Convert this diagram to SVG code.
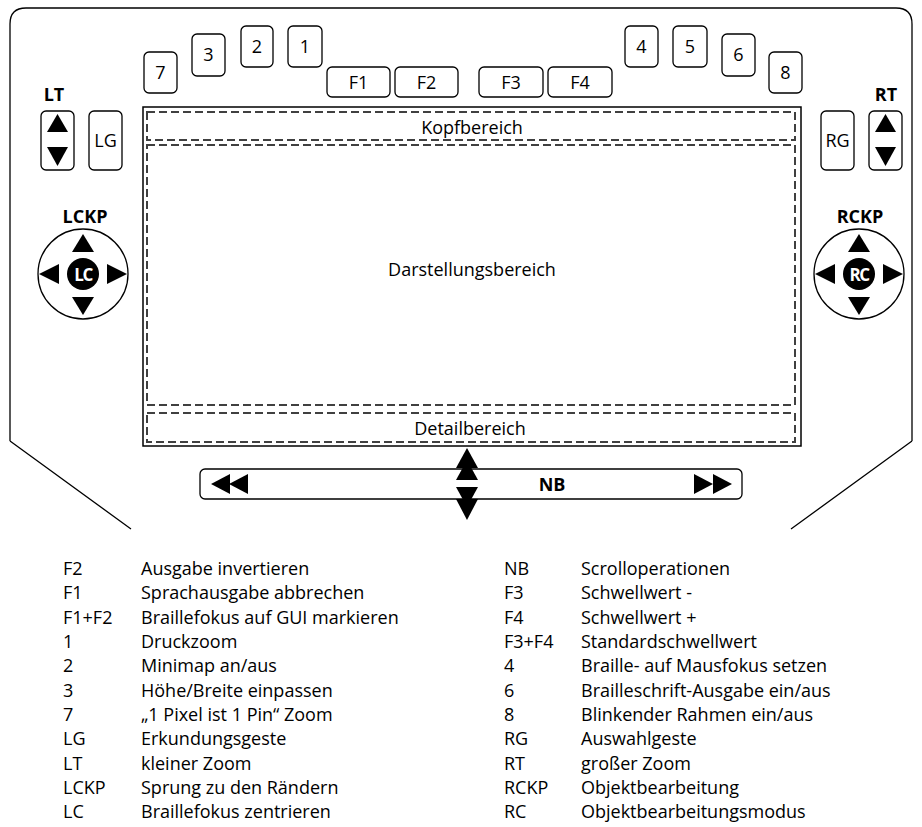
<svg xmlns="http://www.w3.org/2000/svg" width="922" height="827" viewBox="0 0 922 827">
<style>
text{font-family:"Open Sans","Liberation Sans",sans-serif;fill:#000}
.t{font-size:18px}
.c{text-anchor:middle}
.b{font-weight:bold}
.key{fill:#fff;stroke:#000;stroke-width:1.3}
.dash{fill:none;stroke:#404040;stroke-width:2;stroke-dasharray:8 4}
.tri{fill:#000}
.ol{fill:none;stroke:#000;stroke-width:1.3}
</style>
<rect width="922" height="827" fill="#fff"/>
<g id="device">
<path class="ol" d="M10,441 L10,24 Q10,8 26,8 L896,8 Q912,8 912,24 L912,441 M10,441 L131,529 M912,441 L791,529"/>
</g>
<g id="display">
<rect x="143" y="107" width="658" height="339" fill="#fff" stroke="#000" stroke-width="1.5"/>
<rect class="dash" x="147" y="112" width="648" height="28"/>
<rect class="dash" x="147" y="145" width="648" height="260"/>
<rect class="dash" x="147" y="413" width="648" height="29"/>
<text class="t c" x="472" y="134">Kopfbereich</text>
<text class="t c" x="472" y="276">Darstellungsbereich</text>
<text class="t c" x="470" y="435">Detailbereich</text>
</g>
<g id="key7"><rect class="key" x="144" y="52" width="33" height="41" rx="5"/><text class="t c" x="160.5" y="79">7</text></g>
<g id="key3"><rect class="key" x="192" y="34" width="33" height="42" rx="5"/><text class="t c" x="208.5" y="61">3</text></g>
<g id="key2"><rect class="key" x="241" y="26" width="32" height="41" rx="5"/><text class="t c" x="257" y="53">2</text></g>
<g id="key1"><rect class="key" x="288" y="26" width="34" height="41" rx="5"/><text class="t c" x="305" y="53">1</text></g>
<g id="keyF1"><rect class="key" x="327" y="67" width="63" height="30" rx="5"/><text class="t c" x="358.5" y="89">F1</text></g>
<g id="keyF2"><rect class="key" x="395" y="67" width="63" height="30" rx="5"/><text class="t c" x="426.5" y="89">F2</text></g>
<g id="keyF3"><rect class="key" x="479" y="67" width="64" height="30" rx="5"/><text class="t c" x="511" y="89">F3</text></g>
<g id="keyF4"><rect class="key" x="548" y="67" width="64" height="30" rx="5"/><text class="t c" x="580" y="89">F4</text></g>
<g id="key4"><rect class="key" x="625" y="26" width="33" height="41" rx="5"/><text class="t c" x="641.5" y="53">4</text></g>
<g id="key5"><rect class="key" x="673" y="26" width="34" height="41" rx="5"/><text class="t c" x="690" y="53">5</text></g>
<g id="key6"><rect class="key" x="722" y="34" width="33" height="42" rx="5"/><text class="t c" x="738.5" y="61">6</text></g>
<g id="key8"><rect class="key" x="769" y="52" width="33" height="41" rx="5"/><text class="t c" x="785.5" y="79">8</text></g>
<g id="LT">
<text class="t c b" x="54" y="101">LT</text>
<rect class="key" x="41" y="111" width="33" height="59" rx="5"/>
<polygon class="tri" points="57.5,114 68,132 47,132"/>
<polygon class="tri" points="47,147 68,147 57.5,166"/>
</g>
<g id="LG"><rect class="key" x="89" y="111" width="33" height="59" rx="5"/><text class="t c" x="105.5" y="147">LG</text></g>
<g id="RG"><rect class="key" x="821" y="111" width="33" height="59" rx="5"/><text class="t c" x="837.5" y="147">RG</text></g>
<g id="RT">
<text class="t c b" x="886" y="101">RT</text>
<rect class="key" x="869" y="111" width="33" height="59" rx="5"/>
<polygon class="tri" points="885.5,114 896,132 875,132"/>
<polygon class="tri" points="875,147 896,147 885.5,166"/>
</g>
<g id="LCKP">
<text class="t c b" x="85" y="223">LCKP</text>
<circle cx="83" cy="274" r="45" fill="#fff" stroke="#000" stroke-width="1.3"/>
<polygon class="tri" points="83,234 94,252 72,252"/>
<polygon class="tri" points="72,297 94,297 83,315"/>
<polygon class="tri" points="39,274 59,264 59,284"/>
<polygon class="tri" points="127,274 107,264 107,284"/>
<circle cx="83" cy="274" r="16" fill="#000"/>
<text class="c b" x="83" y="280.5" style="font-size:17px;fill:#fff;letter-spacing:-1.5px">LC</text>
</g>
<g id="RCKP">
<text class="t c b" x="860" y="223">RCKP</text>
<circle cx="859" cy="274" r="45" fill="#fff" stroke="#000" stroke-width="1.3"/>
<polygon class="tri" points="859,234 870,252 848,252"/>
<polygon class="tri" points="848,297 870,297 859,315"/>
<polygon class="tri" points="815,274 835,264 835,284"/>
<polygon class="tri" points="903,274 883,264 883,284"/>
<circle cx="859" cy="274" r="16" fill="#000"/>
<text class="c b" x="859" y="280.5" style="font-size:17px;fill:#fff;letter-spacing:-1.5px">RC</text>
</g>
<g id="NB">
<rect class="key" x="200" y="469" width="542" height="30" rx="5"/>
<polygon class="tri" points="211,484 230,474 230,494"/>
<polygon class="tri" points="229,484 248,474 248,494"/>
<polygon class="tri" points="732,484 713,474 713,494"/>
<polygon class="tri" points="713,484 694,474 694,494"/>
<text class="t c b" x="552" y="491">NB</text>
</g>
<g id="connectors">
<polygon class="tri" points="467,448 478,468 456,468"/>
<polygon class="tri" points="467,460 478,480 456,480"/>
<polygon class="tri" points="456,487 478,487 467,507"/>
<polygon class="tri" points="456,499 478,499 467,520"/>
</g>
<g id="legend-left">
<text class="t" x="63" y="575">F2</text><text class="t" x="141" y="575">Ausgabe invertieren</text>
<text class="t" x="63" y="599">F1</text><text class="t" x="141" y="599">Sprachausgabe abbrechen</text>
<text class="t" x="63" y="624">F1+F2</text><text class="t" x="141" y="624">Braillefokus auf GUI markieren</text>
<text class="t" x="63" y="648">1</text><text class="t" x="141" y="648">Druckzoom</text>
<text class="t" x="63" y="672">2</text><text class="t" x="141" y="672">Minimap an/aus</text>
<text class="t" x="63" y="697">3</text><text class="t" x="141" y="697">Höhe/Breite einpassen</text>
<text class="t" x="63" y="721">7</text><text class="t" x="141" y="721">„1 Pixel ist 1 Pin“ Zoom</text>
<text class="t" x="63" y="745">LG</text><text class="t" x="141" y="745">Erkundungsgeste</text>
<text class="t" x="63" y="770">LT</text><text class="t" x="141" y="770">kleiner Zoom</text>
<text class="t" x="63" y="794">LCKP</text><text class="t" x="141" y="794">Sprung zu den Rändern</text>
<text class="t" x="63" y="818">LC</text><text class="t" x="141" y="818">Braillefokus zentrieren</text>
</g>
<g id="legend-right">
<text class="t" x="504" y="575">NB</text><text class="t" x="581" y="575">Scrolloperationen</text>
<text class="t" x="504" y="599">F3</text><text class="t" x="581" y="599">Schwellwert -</text>
<text class="t" x="504" y="624">F4</text><text class="t" x="581" y="624">Schwellwert +</text>
<text class="t" x="504" y="648">F3+F4</text><text class="t" x="581" y="648">Standardschwellwert</text>
<text class="t" x="504" y="672">4</text><text class="t" x="581" y="672">Braille- auf Mausfokus setzen</text>
<text class="t" x="504" y="697">6</text><text class="t" x="581" y="697">Brailleschrift-Ausgabe ein/aus</text>
<text class="t" x="504" y="721">8</text><text class="t" x="581" y="721">Blinkender Rahmen ein/aus</text>
<text class="t" x="504" y="745">RG</text><text class="t" x="581" y="745">Auswahlgeste</text>
<text class="t" x="504" y="770">RT</text><text class="t" x="581" y="770">großer Zoom</text>
<text class="t" x="504" y="794">RCKP</text><text class="t" x="581" y="794">Objektbearbeitung</text>
<text class="t" x="504" y="818">RC</text><text class="t" x="581" y="818">Objektbearbeitungsmodus</text>
</g>
</svg>
